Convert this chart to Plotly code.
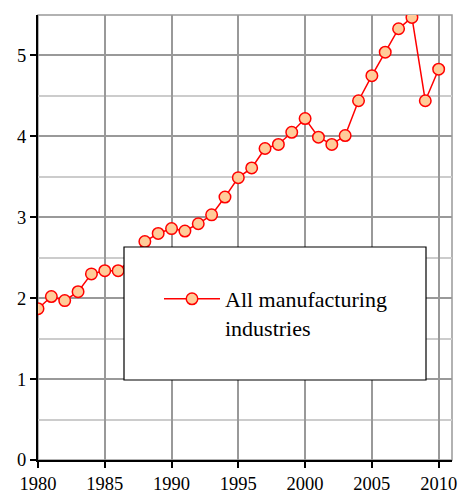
import plotly.graph_objects as go

years = list(range(1980, 2011))
values = [1.87, 2.02, 1.97, 2.08, 2.30, 2.34, 2.34, 2.48, 2.70, 2.80,
          2.86, 2.83, 2.92, 3.03, 3.25, 3.49, 3.61, 3.85, 3.90, 4.05,
          4.22, 3.99, 3.90, 4.01, 4.44, 4.75, 5.04, 5.33, 5.47, 4.44, 4.83]
series_name = "All manufacturing<br>industries"
x_ticks = [1980, 1985, 1990, 1995, 2000, 2005, 2010]
y_ticks = [0, 1, 2, 3, 4, 5]

FONT = "Liberation Serif"

fig = go.Figure()
fig.add_trace(go.Scatter(
    x=years, y=values, name=series_name, mode="lines+markers",
    line=dict(color="#FF0000", width=1.5),
    marker=dict(symbol="circle", size=11.5, color="#FFCC99",
                line=dict(color="#FF0000", width=1.5)),
    showlegend=True,
))

# plot-area frame (gray top/right)
fig.add_shape(type="rect", xref="paper", yref="paper", x0=0, y0=0, x1=1, y1=1,
              line=dict(color="#999999", width=1.5), layer="below")
# legend box
fig.add_shape(type="rect", xref="paper", yref="paper",
              x0=(124 - 38) / 414, x1=(426 - 38) / 414,
              y0=(460 - 380) / 445, y1=(460 - 247) / 445,
              line=dict(color="black", width=1.2), fillcolor="white", layer="above")

fig.update_layout(
    width=460, height=498,
    margin=dict(l=38, r=8, t=15, b=38),
    paper_bgcolor="white", plot_bgcolor="white",
    font=dict(family=FONT, size=18, color="black"),
    showlegend=True,
    legend=dict(x=(159 - 38) / 414, y=(460 - 278) / 445, xanchor="left", yanchor="top",
                bgcolor="rgba(0,0,0,0)", borderwidth=0,
                font=dict(family=FONT, size=22, color="black"),
                itemsizing="trace", valign="top", itemwidth=56),
    xaxis=dict(range=[1980, 2011], tickvals=x_ticks, ticks="outside", ticklen=6,
               tickcolor="black", tickwidth=1.5, automargin=False,
               showgrid=True, gridcolor="#999999", gridwidth=1.5,
               showline=True, linecolor="black", linewidth=2, zeroline=False,
               tickfont=dict(family=FONT, size=18.5)),
    yaxis=dict(range=[0, 5.5], tickvals=y_ticks, ticks="outside", ticklen=6,
               tickcolor="black", tickwidth=1.5, automargin=False,
               showgrid=True, gridcolor="#999999", gridwidth=1.5,
               minor=dict(dtick=0.5, tick0=0, showgrid=True, gridcolor="#CCCCCC", gridwidth=1.5,
                          ticks=""),
               showline=True, linecolor="black", linewidth=2, zeroline=False,
               tickfont=dict(family=FONT, size=18.5)),
)

fig.write_html("out.html", config={"displayModeBar": False},
               post_script="document.body.style.margin='0';document.body.style.overflow='hidden';")
